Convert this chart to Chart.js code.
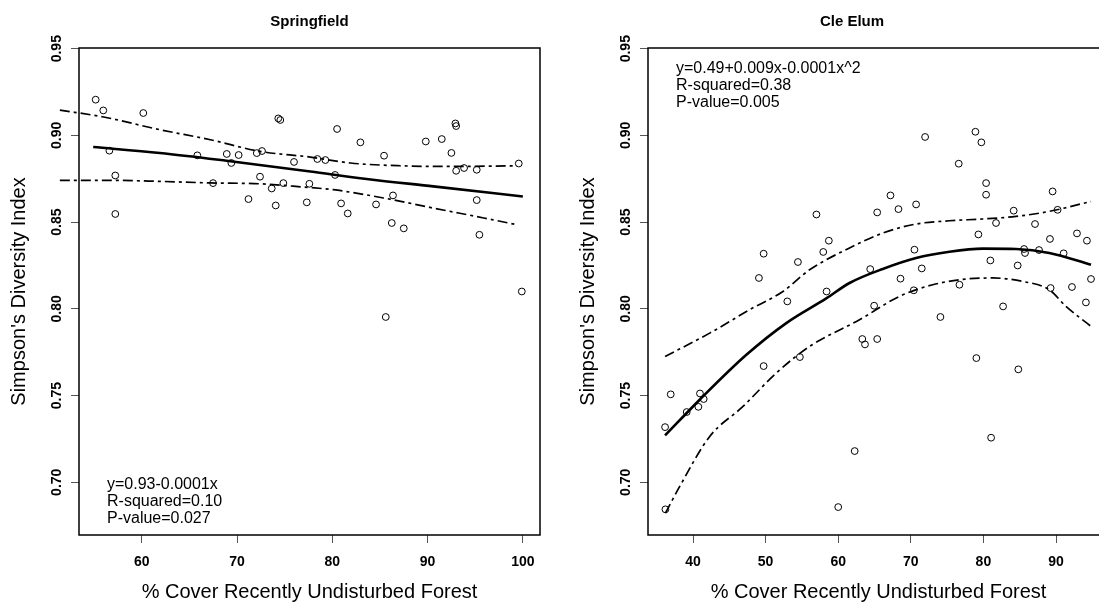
<!DOCTYPE html>
<html>
<head>
<meta charset="utf-8">
<script src="https://cdn.jsdelivr.net/npm/chart.js@4.4.0/dist/chart.umd.min.js"></script>
<style>
  html, body { margin: 0; padding: 0; background: #fff; overflow: hidden; }
  body { width: 1099px; height: 605px; position: relative; }
  canvas { position: absolute; top: 0; }
  #springfield { left: 0; }
  #cleelum { left: 569px; }
</style>
</head>
<body>
<canvas id="springfield" width="560" height="605"></canvas>
<canvas id="cleelum" width="560" height="605"></canvas>
<script>
// Springfield plots
const springX = [55.16, 55.96, 60.16, 56.60, 57.22, 57.22, 65.83, 67.48, 68.92, 70.17, 69.40, 71.20,
  72.07, 72.62, 72.41, 73.64, 74.06, 74.33, 74.54, 74.86, 75.98, 77.32, 77.59, 78.43, 79.27, 80.50,
  80.29, 80.92, 81.62, 82.95, 84.59, 85.43, 86.37, 86.24, 87.50, 89.81, 91.49, 92.50, 92.92, 93.00,
  93.00, 93.83, 95.16, 95.16, 99.57, 95.44, 99.89, 85.61];
const springY = [0.9206, 0.9144, 0.9129, 0.8912, 0.8769, 0.8547, 0.8885, 0.8725, 0.8893, 0.8887, 0.8841, 0.8633,
  0.8898, 0.8910, 0.8762, 0.8694, 0.8596, 0.9098, 0.9089, 0.8725, 0.8847, 0.8614, 0.8721, 0.8864, 0.8858, 0.9037,
  0.8772, 0.8608, 0.8550, 0.8960, 0.8602, 0.8883, 0.8654, 0.8495, 0.8464, 0.8965, 0.8979, 0.8899, 0.9069, 0.9054,
  0.8796, 0.8812, 0.8802, 0.8627, 0.8838, 0.8427, 0.8100, 0.7953];
const springFitX = [54.9, 61.9, 68.9, 77.7, 83.6, 90.6, 100];
const springFitY = [0.8933, 0.8899, 0.8854, 0.8792, 0.8749, 0.8706, 0.8648];
const springUpX = [51.4, 56.0, 61.9, 67.2, 72.4, 77.7, 81.9, 87.1, 92.4, 99.4];
const springUpY = [0.9146, 0.9106, 0.9033, 0.8975, 0.8908, 0.8875, 0.8841, 0.8825, 0.8821, 0.8825];
const springLoX = [51.4, 56.7, 61.9, 67.2, 72.4, 77.0, 80.1, 85.4, 90.6, 95.9, 99.4];
const springLoY = [0.8741, 0.8741, 0.8735, 0.8726, 0.8721, 0.8702, 0.8687, 0.8639, 0.8581, 0.8524, 0.8485];

// Cle Elum plots
const cleX = [57.00, 49.73, 58.71, 57.94, 54.45, 49.08, 58.40, 52.99, 49.73, 54.72, 36.93, 36.15, 39.13,
  40.74, 40.96, 41.47, 62.27, 36.20, 60.00, 81.06, 71.97, 78.90, 79.72, 76.60, 80.37, 80.37, 67.20, 65.37,
  68.30, 70.73, 89.53, 84.17, 90.22, 81.74, 87.11, 79.31, 89.17, 92.89, 94.26, 70.50, 64.41, 71.51, 68.58,
  80.96, 84.72, 85.60, 85.73, 87.66, 91.05, 94.82, 92.20, 89.26, 76.70, 70.41, 64.95, 74.08, 82.71, 94.12,
  63.32, 63.69, 65.37, 79.03, 84.81];
const cleY = [0.8544, 0.8318, 0.8393, 0.8328, 0.8270, 0.8178, 0.8100, 0.8043, 0.7670, 0.7722, 0.7507, 0.7318, 0.7405,
  0.7435, 0.7512, 0.7480, 0.7180, 0.6844, 0.6857, 0.7257, 0.8991, 0.9021, 0.8960, 0.8837, 0.8725, 0.8658, 0.8654, 0.8556,
  0.8575, 0.8602, 0.8677, 0.8566, 0.8571, 0.8495, 0.8489, 0.8429, 0.8403, 0.8435, 0.8393, 0.8341, 0.8229, 0.8233, 0.8174,
  0.8279, 0.8250, 0.8345, 0.8322, 0.8339, 0.8320, 0.8172, 0.8126, 0.8120, 0.8139, 0.8107, 0.8018, 0.7953, 0.8014, 0.8037,
  0.7826, 0.7795, 0.7826, 0.7716, 0.7651];
const cleFitX = [36.15, 40.92, 47.35, 52.85, 58.35, 61.56, 66.14, 70.73, 75.32, 79.9, 84.5, 89.08, 94.82];
const cleFitY = [0.7270, 0.7476, 0.7735, 0.7918, 0.8060, 0.8149, 0.8230, 0.8293, 0.8329, 0.8347, 0.8345, 0.8322, 0.8254];
const cleUpX = [36.15, 42.3, 47.8, 52.38, 56.05, 61.56, 66.14, 70.73, 75.32, 79.9, 84.5, 89.08, 94.82];
const cleUpY = [0.7725, 0.7860, 0.7995, 0.8100, 0.8225, 0.8351, 0.8437, 0.8489, 0.8508, 0.8518, 0.8533, 0.8562, 0.8619];
const cleLoX = [36.2, 38.17, 42.3, 46.88, 51.47, 56.05, 62.93, 68.44, 73.03, 77.62, 81.28, 85.41, 89.08, 91.37, 94.82];
const cleLoY = [0.6822, 0.6976, 0.7264, 0.7437, 0.7630, 0.7783, 0.7937, 0.8072, 0.8139, 0.8172, 0.8178, 0.8158, 0.8110, 0.8014, 0.7899];

const yTicks = [0.70, 0.75, 0.80, 0.85, 0.90, 0.95];
const springXTicks = [60, 70, 80, 90, 100];
const cleXTicks = [40, 50, 60, 70, 80, 90];

const xTitle = '% Cover Recently Undisturbed Forest';
const yTitle = "Simpson's Diversity Index";
const springNote = ['y=0.93-0.0001x', 'R-squared=0.10', 'P-value=0.027'];
const cleNote = ['y=0.49+0.009x-0.0001x^2', 'R-squared=0.38', 'P-value=0.005'];

const FONT = "'Liberation Sans', Arial, sans-serif";
Chart.defaults.font.family = FONT;
Chart.defaults.color = '#000';

const pairs = (xs, ys) => xs.map((x, i) => ({ x: x, y: ys[i] }));

// box round the plot region, panel title, fit text
function panelPlugin(title, titleDx, lines, textDy) {
  return {
    id: 'panel',
    afterDatasetsDraw(chart) {
      const { ctx, chartArea: a } = chart;
      ctx.save();
      ctx.strokeStyle = '#000';
      ctx.lineWidth = 1.5;
      ctx.strokeRect(a.left, a.top, a.right - a.left, a.bottom - a.top);
      ctx.fillStyle = '#000';
      ctx.textAlign = 'center';
      ctx.textBaseline = 'middle';
      ctx.font = 'bold 15px ' + FONT;
      ctx.fillText(title, a.left + titleDx, 22);
      ctx.textAlign = 'left';
      ctx.font = '16px ' + FONT;
      lines.forEach((t, i) => ctx.fillText(t, a.left + 28, a.top + textDy + i * 17.2));
      ctx.restore();
    }
  };
}

function makeChart(id, xs, ys, fit, up, lo, xMin, xMax, xTicks, title, titleDx, note, textDy) {
  const lineStyle = { showLine: true, pointRadius: 0, borderColor: '#000', fill: false,
    cubicInterpolationMode: 'monotone', clip: false };
  return new Chart(document.getElementById(id), {
    type: 'scatter',
    data: {
      datasets: [
        { data: pairs(xs, ys), pointStyle: 'circle', pointRadius: 3.4, pointBorderWidth: 1,
          pointBorderColor: '#000', pointBackgroundColor: 'rgba(0,0,0,0)' },
        Object.assign({ data: fit, borderWidth: 2.6 }, lineStyle),
        Object.assign({ data: up, borderWidth: 1.7, borderDash: [10, 4, 3, 4] }, lineStyle),
        Object.assign({ data: lo, borderWidth: 1.7, borderDash: [10, 4, 3, 4] }, lineStyle)
      ]
    },
    options: {
      responsive: false,
      animation: false,
      events: [],
      layout: { padding: { top: 48, right: 20, left: 0, bottom: 0 } },
      plugins: { legend: { display: false }, tooltip: { enabled: false } },
      scales: {
        x: {
          type: 'linear', min: xMin, max: xMax,
          afterBuildTicks: s => { s.ticks = xTicks.map(v => ({ value: v })); },
          afterFit: s => { s.height = 70; },
          border: { display: false },
          grid: { drawOnChartArea: false, drawTicks: true, tickLength: 8, color: '#555', lineWidth: 1 },
          ticks: { autoSkip: false, maxRotation: 0, padding: 11, color: '#000',
            font: { size: 14, weight: 'bold' }, callback: v => String(v) },
          title: { display: true, text: xTitle, color: '#000', font: { size: 20 },
            padding: { top: 0, bottom: 1 } }
        },
        y: {
          type: 'linear', min: 0.6696, max: 0.9504,
          afterBuildTicks: s => { s.ticks = yTicks.map(v => ({ value: v })); },
          afterFit: s => { s.width = 79; },
          border: { display: false },
          grid: { drawOnChartArea: false, drawTicks: true, tickLength: 8, color: '#555', lineWidth: 1 },
          ticks: { autoSkip: false, minRotation: 90, maxRotation: 90, crossAlign: 'center',
            padding: 0, color: '#000', font: { size: 14, weight: 'bold' }, callback: v => v.toFixed(2) },
          title: { display: true, text: yTitle, color: '#000', font: { size: 20 },
            padding: { top: 7, bottom: 0 } }
        }
      }
    },
    plugins: [panelPlugin(title, titleDx, note, textDy)]
  });
}

makeChart('springfield', springX, springY,
  pairs(springFitX, springFitY), pairs(springUpX, springUpY), pairs(springLoX, springLoY),
  53.41, 101.8, springXTicks, 'Springfield', 230.5, springNote, 436.3);
makeChart('cleelum', cleX, cleY,
  pairs(cleFitX, cleFitY), pairs(cleUpX, cleUpY), pairs(cleLoX, cleLoY),
  33.8, 97.3, cleXTicks, 'Cle Elum', 204, cleNote, 20.3);
</script>
</body>
</html>
